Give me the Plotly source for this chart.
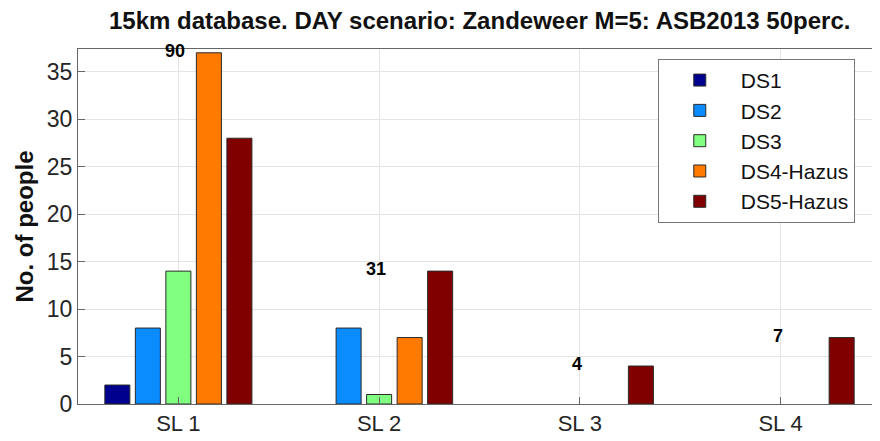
import plotly.graph_objects as go

categories = ["SL 1", "SL 2", "SL 3", "SL 4"]
cat_pos = [1, 2, 3, 4]
ds1 = [2, 0, 0, 0]
ds2 = [8, 8, 0, 0]
ds3 = [14, 1, 0, 0]
ds4 = [37, 7, 0, 0]
ds5 = [28, 14, 4, 7]
totals = [90, 31, 4, 7]
series_names = ["DS1", "DS2", "DS3", "DS4-Hazus", "DS5-Hazus"]
series_values = [ds1, ds2, ds3, ds4, ds5]
colors = ["#00008F", "#0A8CFF", "#80FF80", "#FF7A00", "#800000"]

FONT = "Liberation Sans, Arial, sans-serif"

fig = go.Figure()
for name, vals, col in zip(series_names, series_values, colors):
    fig.add_trace(go.Bar(
        x=cat_pos, y=vals, name=name, legendgroup=name,
        marker=dict(color=col,
                    line=dict(color="#2a2a2a", width=[1 if v > 0 else 0 for v in vals])),
    ))

for xp, tot, vals in zip(cat_pos, totals, zip(*series_values)):
    fig.add_annotation(x=xp, y=max(vals), text=str(tot), showarrow=False,
                       xshift=-3, yshift=2, yanchor="middle",
                       font=dict(family=FONT, size=18, color="black", weight="bold"))

fig.update_layout(
    width=880, height=441,
    margin=dict(l=70, r=7, t=41, b=45),
    paper_bgcolor="white", plot_bgcolor="white",
    barmode="group", bargap=0.24, bargroupgap=0.18,
    title=dict(text="<b>15km database. DAY scenario: Zandeweer M=5: ASB2013 50perc.</b>",
               x=0.536, xanchor="center", y=0.99, yanchor="top",
               font=dict(family=FONT, size=24, color="#111")),
    font=dict(family=FONT, size=22, color="#262626"),
    legend=dict(x=0.722, y=0.972, xanchor="left", yanchor="top",
                bgcolor="white", bordercolor="#777", borderwidth=1,
                font=dict(family=FONT, size=21, color="#111"),
                tracegroupgap=0, traceorder="normal", itemwidth=72),
    showlegend=True,
)
fig.update_xaxes(range=[0.5, 4.5], tickvals=cat_pos, ticktext=categories,
                 showline=True, linecolor="#666", linewidth=1, mirror=True,
                 ticks="inside", ticklen=7, tickcolor="#666",
                 showgrid=True, gridcolor="#e4e4e4", gridwidth=1,
                 tickfont=dict(size=22), zeroline=False)
fig.update_yaxes(range=[0, 37.4], tickvals=[0, 5, 10, 15, 20, 25, 30, 35],
                 showline=True, linecolor="#666", linewidth=1, mirror=True,
                 ticks="inside", ticklen=7, tickcolor="#666",
                 showgrid=True, gridcolor="#e4e4e4", gridwidth=1,
                 tickfont=dict(size=23), zeroline=False,
                 title=dict(text="<b>No. of people</b>", standoff=6,
                            font=dict(family=FONT, size=24, color="#111")))

fig.write_html("out.html")
